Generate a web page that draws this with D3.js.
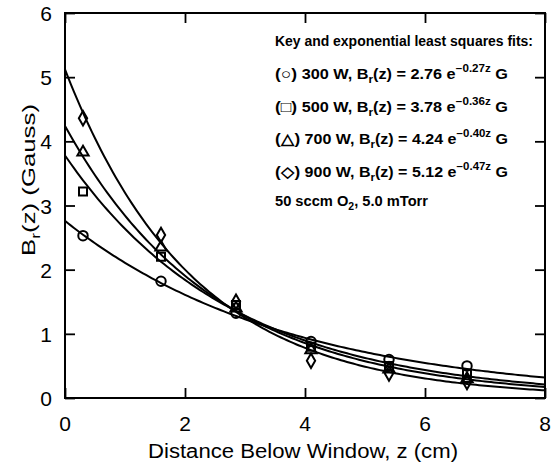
<!DOCTYPE html>
<html>
<head>
<meta charset="utf-8">
<script src="https://cdn.jsdelivr.net/npm/d3@7"></script>
<style>
  body { margin: 0; background: #fff; }
  svg { display: block; }
  text { font-family: "Liberation Sans", Arial, sans-serif; fill: #000; }
</style>
</head>
<body>
<svg id="chart" width="552" height="467"></svg>
<script>
// measured positions below the window (cm)
const zPos = [0.3, 1.6, 2.85, 4.1, 5.4, 6.7];

// Br(z) readings in Gauss, one array per RF power
const b300 = [2.53, 1.82, 1.32, 0.88, 0.60, 0.50];
const b500 = [3.22, 2.20, 1.45, 0.80, 0.50, 0.38];
const b700 = [3.83, 2.35, 1.40, 0.75, 0.45, 0.30];
const b900 = [4.36, 2.54, 1.50, 0.58, 0.38, 0.25];

// exponential least squares fits  Br = A e^(-k z)
const powers = ["300", "500", "700", "900"];
const fitAmp = [2.76, 3.78, 4.24, 5.12];
const fitDecay = [0.27, 0.36, 0.40, 0.47];
const symbolNames = ["circle", "square", "triangle", "diamond"];
const legendGlyphs = ["\u25CB", "\u25A1", "\u25B3", "\u25C7"];

const xTicks = [0, 2, 4, 6, 8];
const yTicks = [0, 1, 2, 3, 4, 5, 6];

const series = [b300, b500, b700, b900];

const svg = d3.select("#chart"),
    width = +svg.attr("width"),
    height = +svg.attr("height");

const margin = {top: 13, right: 7, bottom: 69, left: 65};
const x = d3.scaleLinear().domain([0, 8]).range([margin.left, width - margin.right]);
const y = d3.scaleLinear().domain([0, 6]).range([height - margin.bottom, margin.top]);

// frame
svg.append("rect")
    .attr("x", x(0)).attr("y", y(6))
    .attr("width", x(8) - x(0)).attr("height", y(0) - y(6))
    .attr("fill", "none").attr("stroke", "#000").attr("stroke-width", 2);

// inward ticks on all four sides
const tickLen = 10;
svg.append("g").attr("transform", `translate(0,${y(0)})`)
    .call(d3.axisBottom(x).tickValues(xTicks).tickSize(-tickLen).tickFormat(""))
    .call(g => g.select(".domain").remove());
svg.append("g").attr("transform", `translate(0,${y(6)})`)
    .call(d3.axisTop(x).tickValues(xTicks).tickSize(-tickLen).tickFormat(""))
    .call(g => g.select(".domain").remove());
svg.append("g").attr("transform", `translate(${x(0)},0)`)
    .call(d3.axisLeft(y).tickValues(yTicks).tickSize(-tickLen).tickFormat(""))
    .call(g => g.select(".domain").remove());
svg.append("g").attr("transform", `translate(${x(8)},0)`)
    .call(d3.axisRight(y).tickValues(yTicks).tickSize(-tickLen).tickFormat(""))
    .call(g => g.select(".domain").remove());
svg.selectAll(".tick line").attr("stroke", "#000").attr("stroke-width", 1.8);

// tick labels
svg.selectAll("xLabel")
    .data(xTicks)
    .enter().append("text")
    .attr("x", d => x(d))
    .attr("y", y(0) + 33)
    .attr("text-anchor", "middle")
    .style("font-size", "21px")
    .text(d => d);

svg.selectAll("yLabel")
    .data(yTicks)
    .enter().append("text")
    .attr("x", x(0) - 13)
    .attr("y", d => y(d) + 8)
    .attr("text-anchor", "end")
    .style("font-size", "21px")
    .text(d => d);

// axis titles
svg.append("text")
    .attr("x", 148)
    .attr("y", 458)
    .attr("textLength", 310)
    .attr("lengthAdjust", "spacingAndGlyphs")
    .style("font-size", "20px")
    .text("Distance Below Window, z (cm)");

const yTitle = svg.append("text")
    .attr("transform", `translate(35,256) rotate(-90)`)
    .attr("textLength", 152)
    .attr("lengthAdjust", "spacingAndGlyphs")
    .style("font-size", "19px");
yTitle.append("tspan").text("B");
yTitle.append("tspan").attr("dy", 5).style("font-size", "13px").text("r");
yTitle.append("tspan").attr("dy", -5).text("(z)  (Gauss)");

// fitted curves
const zLine = d3.range(0, 8.001, 0.05);
const line = d3.line().x(d => x(d[0])).y(d => y(d[1]));

svg.append("g")
    .selectAll("path")
    .data(fitAmp)
    .enter().append("path")
    .attr("d", (a, i) => line(zLine.map(z => [z, a * Math.exp(-fitDecay[i] * z)])))
    .attr("fill", "none")
    .attr("stroke", "#000")
    .attr("stroke-width", 2);

// data markers
const symbolType = {
    circle: d3.symbolCircle,
    square: d3.symbolSquare,
    triangle: d3.symbolTriangle,
    diamond: d3.symbolDiamond
};
const symbolSize = {circle: 70, square: 64, triangle: 55, diamond: 60};

series.forEach((vals, i) => {
    const name = symbolNames[i];
    svg.append("g")
        .selectAll("path")
        .data(vals)
        .enter().append("path")
        .attr("transform", (d, j) => `translate(${x(zPos[j])},${y(d)})`)
        .attr("d", d3.symbol().type(symbolType[name]).size(symbolSize[name]))
        .attr("fill", "none")
        .attr("stroke", "#000")
        .attr("stroke-width", 2);
});

// key
const legend = svg.append("g").style("font-size", "14px").style("font-weight", "bold");
legend.append("text").attr("x", 275).attr("y", 46)
    .attr("textLength", 258)
    .attr("lengthAdjust", "spacingAndGlyphs")
    .text("Key and exponential least squares fits:");

powers.forEach((p, i) => {
    const t = legend.append("text").attr("x", 275).attr("y", 79 + i * 32.5)
        .attr("textLength", 233)
        .attr("lengthAdjust", "spacingAndGlyphs");
    t.append("tspan").style("font-size", "15px").text(`(${legendGlyphs[i]})`);
    t.append("tspan").text(` ${p} W, B`);
    t.append("tspan").attr("dy", 4).style("font-size", "10px").text("r");
    t.append("tspan").attr("dy", -4).text(`(z) = ${fitAmp[i].toFixed(2)} e`);
    t.append("tspan").attr("dy", -7).style("font-size", "10px").text(`\u2212${fitDecay[i].toFixed(2)}z`);
    t.append("tspan").attr("dy", 7).text(" G");
});

const note = legend.append("text").attr("x", 275).attr("y", 206)
    .attr("textLength", 153)
    .attr("lengthAdjust", "spacingAndGlyphs");
note.append("tspan").text("50 sccm O");
note.append("tspan").attr("dy", 4).style("font-size", "10px").text("2");
note.append("tspan").attr("dy", -4).text(", 5.0 mTorr");
</script>
</body>
</html>
